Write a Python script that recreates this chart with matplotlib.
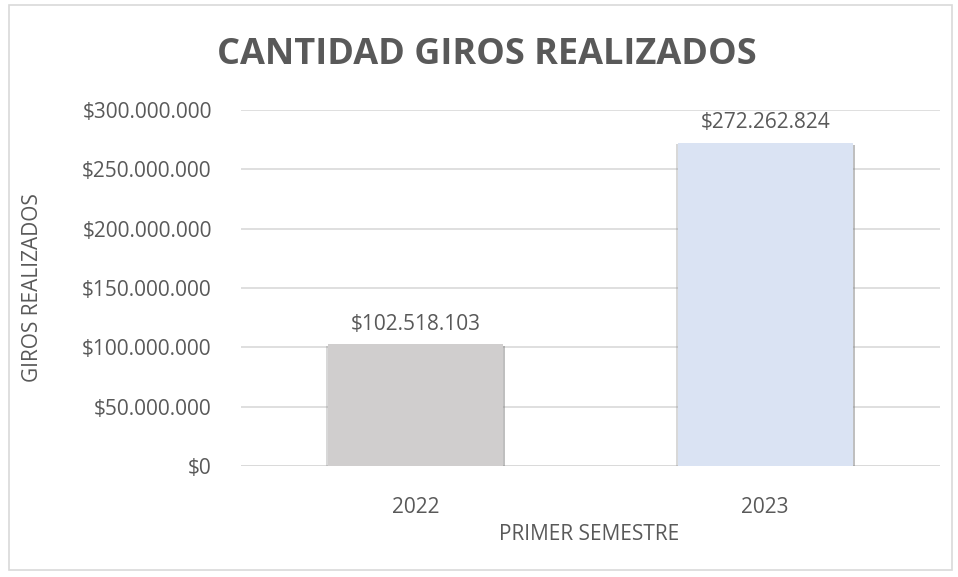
import matplotlib.pyplot as plt
import matplotlib.patheffects as pe
from matplotlib.patches import Rectangle
from matplotlib.ticker import FuncFormatter

years = ['2022', '2023']
values = [102518103, 272262824]
bar_colors = ['#D0CECE', '#DAE3F3']
yticks = [0, 50000000, 100000000, 150000000, 200000000, 250000000, 300000000]

plt.rcParams['font.family'] = ['Open Sans', 'DejaVu Sans']
txt = '#595959'
fs = 15


def money(v, pos=None):
    return '$' + f'{int(v):,}'.replace(',', '.')


fig = plt.figure(figsize=(9.58, 5.77), dpi=100)
W, H = 958, 577
ax = fig.add_axes([241 / W, 1 - 466 / H, (940 - 241) / W, (466 - 110) / H])

# outer chart border
fig.patches.append(Rectangle((9 / W, 1 - 570 / H), (952 - 9) / W, (570 - 5) / H,
                             transform=fig.transFigure, fill=False,
                             edgecolor='#d9d9d9', linewidth=1.2))

bars = ax.bar(range(len(years)), values, width=0.5, color=bar_colors, zorder=3)
# soft shadow on both sides of the bars
for b in bars:
    b.set_path_effects([pe.SimplePatchShadow(offset=(-1.5, -1), shadow_rgbFace='#909090', alpha=0.35),
                        pe.SimplePatchShadow(offset=(1.5, -1.5), shadow_rgbFace='#808080', alpha=0.5),
                        pe.Normal()])

for i, v in enumerate(values):
    ax.text(i, v + 8000000, money(v), ha='center', va='bottom', fontsize=fs, color=txt)

ax.set_xlim(-0.5, 1.5)
ax.set_ylim(0, 300000000)
ax.set_yticks(yticks)
ax.yaxis.set_major_formatter(FuncFormatter(money))
ax.set_xticks(range(len(years)))
ax.set_xticklabels(years)
ax.tick_params(axis='both', length=0, labelsize=fs, colors=txt)
ax.tick_params(axis='y', pad=21)
ax.tick_params(axis='x', pad=22)
ax.grid(axis='y', color='#d9d9d9', linewidth=1.2, zorder=0)
for s in ax.spines.values():
    s.set_visible(False)
ax.axhline(0, color='#d9d9d9', linewidth=1.2, zorder=1)

fig.text(589 / W, 1 - 535 / H, 'PRIMER SEMESTRE', ha='center', va='center',
         fontsize=fs, color=txt)
fig.text(33 / W, 1 - 288 / H, 'GIROS REALIZADOS', rotation=90, ha='center', va='center',
         fontsize=fs, color=txt)
fig.text(487 / W, 1 - 55 / H, 'CANTIDAD GIROS REALIZADOS', ha='center', va='center',
         fontsize=26, fontweight='bold', color=txt)

fig.savefig('out.png', dpi=100)
